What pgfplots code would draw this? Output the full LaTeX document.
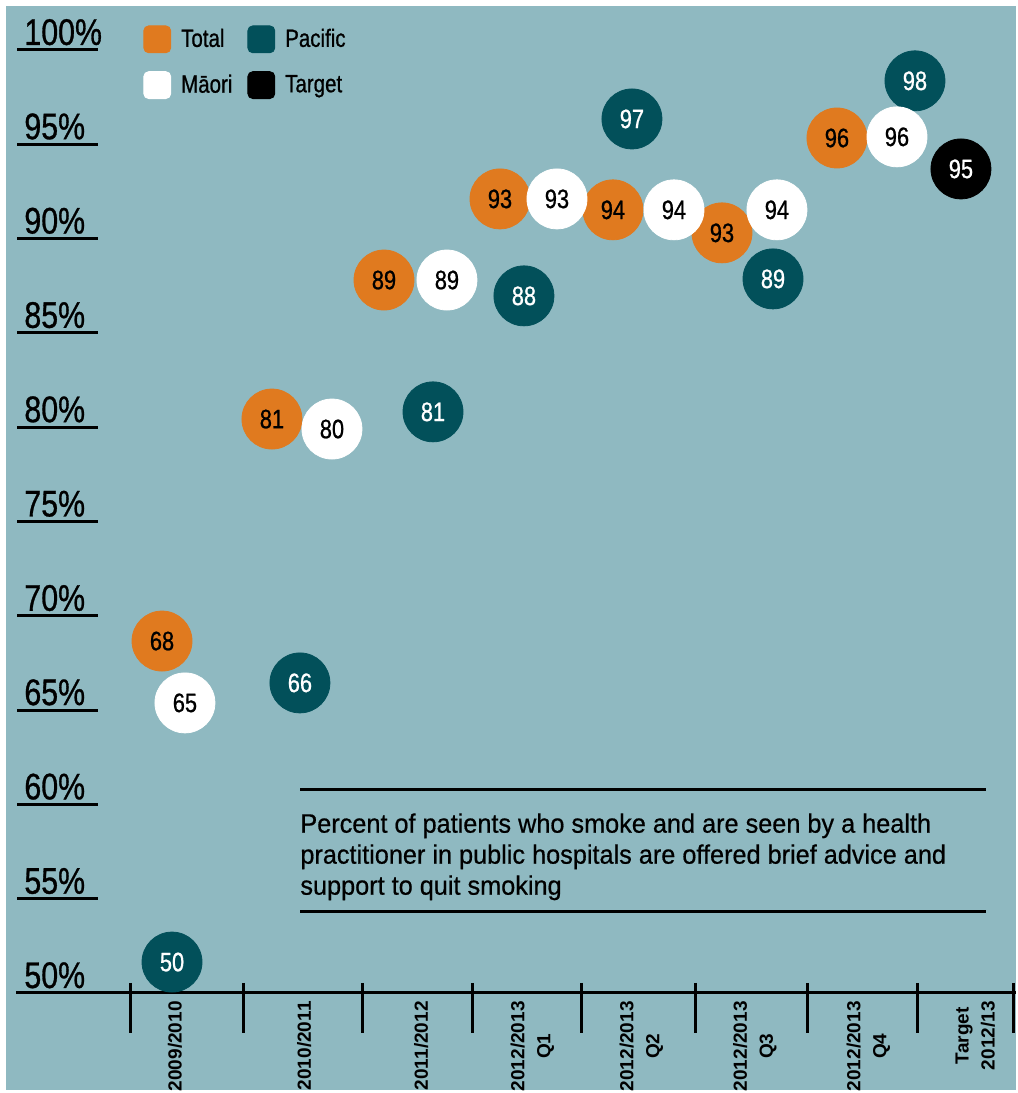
\documentclass[border=0pt]{standalone}
\usepackage{pgfplots}
\pgfplotsset{compat=1.18}
\usepackage{pgfplotstable}
\usepackage{fontspec}
\setmainfont{Liberation Sans}[FakeStretch=0.82, FakeBold=0.8]
\newfontfamily\notefont{Liberation Sans}[FakeStretch=0.95, FakeBold=0.6]
\newfontfamily\catfont{Liberation Sans}[FakeStretch=1.0]

\definecolor{bgteal}{RGB}{143,185,193}
\definecolor{tot}{RGB}{224,122,31}
\definecolor{pac}{RGB}{2,80,90}

% x = category position (0 = 2009/2010), y = where the bubble sits, lab = printed value
\pgfplotstableread{
x      y      lab
-0.215 68.66  68
0.763  80.43  81
1.760  87.80  89
2.792  92.10  93
3.797  91.52  94
4.767  90.30  93
5.790  95.33  96
}\total
\pgfplotstableread{
x      y      lab
-0.126 51.64  50
1.012  66.44  66
2.196  80.81  81
3.005  86.96  88
3.966  96.34  97
5.221  87.86  89
6.484  98.36  98
}\pacific
\pgfplotstableread{
x      y      lab
-0.011 65.38  65
1.297  79.90  80
2.320  87.80  89
3.299  92.10  93
4.340  91.52  94
5.256  91.52  94
6.324  95.39  96
}\maori
\pgfplotstableread{
x      y      lab
6.893  93.69  95
}\target

\newcommand\bub{\fontsize{13.3bp}{14bp}\selectfont}

\begin{document}
\begin{tikzpicture}[x=0.5bp,y=0.5bp]
\fill[white] (0,0) rectangle (1016,1093);
\fill[bgteal] (6,3) rectangle (1016,1087);
% underlines of the percent labels
\foreach \v in {55,60,...,100}
  \draw[line width=1.5bp] (17,{100+(\v-50)*18.86}) -- (98,{100+(\v-50)*18.86});
\draw[line width=1.5bp] (16,100) -- (1016,100);
\foreach \s in {130,243,362,472,581,695,807,917,1013}
  \draw[line width=1.5bp] (\s,110) -- (\s,60);
% note
\draw[line width=1.5bp] (300,303) -- (986,303);
\draw[line width=1.5bp] (300,181) -- (986,181);
\node[anchor=north west, inner sep=0pt, align=left,
  font=\notefont\fontsize{13.3bp}{15.5bp}\selectfont] at (300,280)
  {Percent of patients who smoke and are seen by a health\\
   practitioner in public hospitals are offered brief advice and\\
   support to quit smoking};

\begin{axis}[
  at={(3bp,50bp)}, anchor=south west,
  scale only axis, width=505bp, height=493.5bp,
  xmin=-1.603, xmax=7.383, ymin=50, ymax=102.33,
  clip=false,
  axis line style={draw=none}, tick style={draw=none}, major tick length=0pt,
  ytick={50,55,...,100},
  yticklabels={50\%,55\%,60\%,65\%,70\%,75\%,80\%,85\%,90\%,95\%,100\%},
  yticklabel style={anchor=base west, inner sep=0pt, xshift=9bp, yshift=2.5bp,
    font=\fontsize{18.5bp}{20bp}\selectfont},
  xtick={-0.1,1.05,2.09,3.08,4.05,5.06,6.07,7.02},
  xticklabels={2009/2010,2010/2011,2011/2012,{2012/2013\\Q1},{2012/2013\\Q2},
    {2012/2013\\Q3},{2012/2013\\Q4},{Target\\2012/13}},
  xticklabel style={yshift=-4bp, rotate=90, anchor=east, align=center, inner sep=0pt,
    font=\catfont\bfseries\fontsize{9.5bp}{13bp}\selectfont},
  legend columns=2,
  legend style={at={(axis description cs:0.1356,0.9807)}, anchor=north west,
    draw=none, fill=none, inner sep=0pt,
    font=\fontsize{12.5bp}{14bp}\selectfont,
    nodes={inner xsep=5bp, inner ysep=0pt},
    /tikz/every even column/.append style={column sep=2.5bp},
    row sep=9bp},
  legend cell align=left,
  nodes near coords, point meta=explicit symbolic,
]
\addplot[only marks, mark=*, mark size=15bp, color=tot,
  nodes near coords style={anchor=center, text=black, font=\bub},
  legend image code/.code={\fill[tot,rounded corners=2.5bp] (0bp,-6.75bp) rectangle (13.5bp,6.75bp);}]
  table[x=x,y=y,meta=lab]{\total};
\addlegendentry{Total}
\addplot[only marks, mark=*, mark size=15bp, color=pac,
  nodes near coords style={anchor=center, text=white, font=\bub},
  legend image code/.code={\fill[pac,rounded corners=2.5bp] (0bp,-6.75bp) rectangle (13.5bp,6.75bp);}]
  table[x=x,y=y,meta=lab]{\pacific};
\addlegendentry{Pacific}
\addplot[only marks, mark=*, mark size=15bp, color=white,
  nodes near coords style={anchor=center, text=black, font=\bub},
  legend image code/.code={\fill[white,rounded corners=2.5bp] (0bp,-6.75bp) rectangle (13.5bp,6.75bp);}]
  table[x=x,y=y,meta=lab]{\maori};
\addlegendentry{Māori}
\addplot[only marks, mark=*, mark size=15bp, color=black,
  nodes near coords style={anchor=center, text=white, font=\bub},
  legend image code/.code={\fill[black,rounded corners=2.5bp] (0bp,-6.75bp) rectangle (13.5bp,6.75bp);}]
  table[x=x,y=y,meta=lab]{\target};
\addlegendentry{Target}
\end{axis}
\end{tikzpicture}
\end{document}
